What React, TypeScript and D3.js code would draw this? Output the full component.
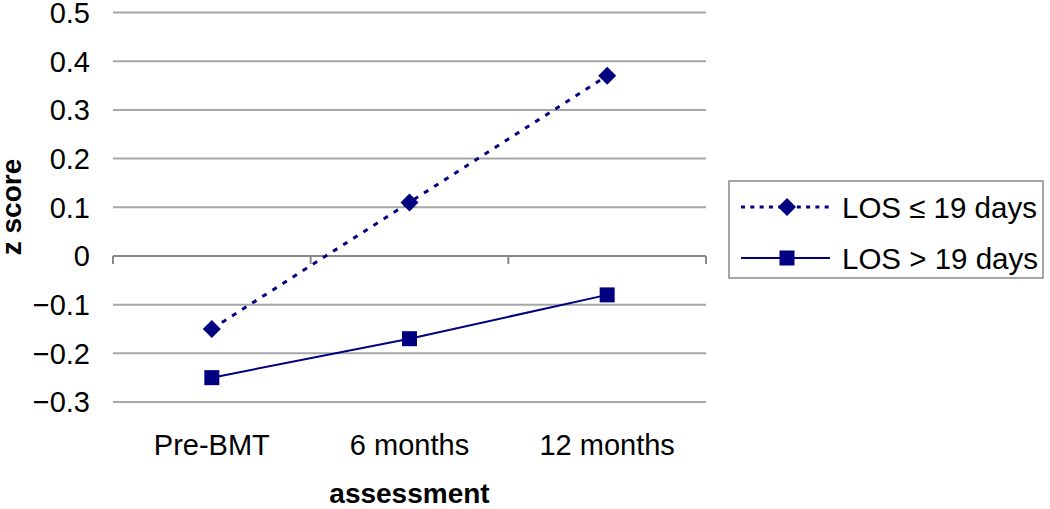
import * as d3 from "d3";

const W = 1050;
const H = 509;
const PLOT = { left: 113, right: 706, top: 12.5, bottom: 402 };
const FONT = "'Liberation Sans', Arial, sans-serif";
const NAVY = "#000080";

const categories = ["Pre-BMT", "6 months", "12 months"];
const yTicks = [0.5, 0.4, 0.3, 0.2, 0.1, 0, -0.1, -0.2, -0.3];
const losShort = [-0.15, 0.11, 0.37]; // LOS <= 19 days
const losLong = [-0.25, -0.17, -0.08]; // LOS > 19 days

const x = d3.scaleBand<string>().domain(categories).range([PLOT.left, PLOT.right]);
const y = d3.scaleLinear().domain([-0.3, 0.5]).range([PLOT.bottom, PLOT.top]);
const cx = (c: string) => (x(c) ?? 0) + x.bandwidth() / 2;

const line = d3
  .line<number>()
  .x((_, i) => cx(categories[i]))
  .y((d) => y(d));

const diamond = (px: number, py: number, r: number) =>
  `M${px},${py - r}L${px + r},${py}L${px},${py + r}L${px - r},${py}Z`;

export default function App() {
  const boundaries = [...categories.map((c) => x(c) ?? 0), PLOT.right];

  return (
    <svg
      width={W}
      height={H}
      style={{ position: "absolute", left: 0, top: 0, background: "#fff" }}
      fontFamily={FONT}
    >
      {/* grid */}
      {yTicks.map((t) => (
        <g key={t}>
          {t !== 0 && (
            <line x1={PLOT.left} x2={PLOT.right} y1={y(t)} y2={y(t)} stroke="#a6a6a6" strokeWidth={2} />
          )}
          <text x={90} y={y(t)} dy="0.36em" textAnchor="end" fontSize={29} fill="#000">
            {t === 0 ? "0" : d3.format(".1f")(t)}
          </text>
        </g>
      ))}

      {/* category axis at zero */}
      <line x1={PLOT.left} x2={PLOT.right} y1={y(0)} y2={y(0)} stroke="#888" strokeWidth={2} />
      {boundaries.map((bx, i) => (
        <line key={i} x1={bx} x2={bx} y1={y(0)} y2={y(0) + 8} stroke="#888" strokeWidth={2} />
      ))}

      {categories.map((c) => (
        <text key={c} x={cx(c)} y={455} textAnchor="middle" fontSize={29} fill="#000">
          {c}
        </text>
      ))}

      {/* axis titles */}
      <text x={cx(categories[1])} y={503} textAnchor="middle" fontSize={28} fontWeight="bold">
        assessment
      </text>
      <text
        transform={`translate(21,207) rotate(-90)`}
        textAnchor="middle"
        fontSize={28}
        fontWeight="bold"
      >
        z score
      </text>

      {/* series */}
      <path d={line(losShort) ?? ""} fill="none" stroke={NAVY} strokeWidth={3} strokeDasharray="5,7" />
      <path d={line(losLong) ?? ""} fill="none" stroke={NAVY} strokeWidth={2} />
      {losShort.map((v, i) => (
        <path key={"d" + i} d={diamond(cx(categories[i]), y(v), 9)} fill={NAVY} />
      ))}
      {losLong.map((v, i) => (
        <rect key={"s" + i} x={cx(categories[i]) - 7.5} y={y(v) - 7.5} width={15} height={15} fill={NAVY} />
      ))}

      {/* legend */}
      <rect x={729} y={181} width={314} height={97} fill="#fff" stroke="#888" strokeWidth={1.5} />
      <line x1={741} x2={830} y1={207} y2={207} stroke={NAVY} strokeWidth={3} strokeDasharray="4,5.3" />
      <path d={diamond(787, 207, 9)} fill={NAVY} />
      <text x={842} y={207} dy="0.36em" fontSize={29.5}>
        LOS ≤ 19 days
      </text>
      <line x1={741} x2={830} y1={258} y2={258} stroke={NAVY} strokeWidth={2} />
      <rect x={779.5} y={250.5} width={15} height={15} fill={NAVY} />
      <text x={842} y={258} dy="0.36em" fontSize={29.5}>
        LOS &gt; 19 days
      </text>
    </svg>
  );
}
